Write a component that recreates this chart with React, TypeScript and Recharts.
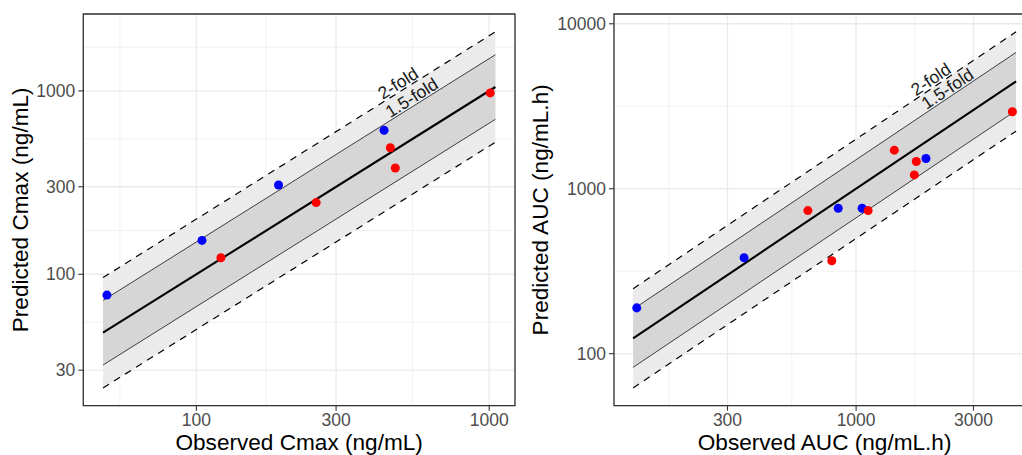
import React from 'react';
import {
  ComposedChart,
  XAxis,
  YAxis,
  CartesianGrid,
  Area,
  Line,
  Scatter,
  ReferenceArea,
  ReferenceDot,
} from 'recharts';

// ---------- Left panel: Cmax ----------
const cmaxBlueObs = [49.5, 104.5, 190.8, 437.5];
const cmaxBluePred = [77, 153, 306.6, 610];
const cmaxRedObs = [121.3, 256.5, 459.6, 478, 1008];
const cmaxRedPred = [123.1, 246, 490, 380, 975];
const cmaxLineX = [48, 1050];
const cmaxXTicks = [100, 300, 1000];
const cmaxYTicks = [30, 100, 300, 1000];
const cmaxXMinor = [54.8, 173.2, 547.7];
const cmaxYMinor = [54.8, 173.2, 547.7, 1732];
const cmaxXDomain = [41.1, 1225];
const cmaxYDomain = [19.2, 2626];
const cmaxLabelX = [505, 562]; // 2-fold, 1.5-fold

// ---------- Right panel: AUC ----------
const aucBlueObs = [128.3, 350.4, 845.7, 1058, 1923];
const aucBluePred = [189.6, 381.7, 761, 761, 1526];
const aucRedObs = [636.8, 796.5, 1119, 1430, 1757, 1724, 4318];
const aucRedPred = [737, 366, 737, 1714, 1463, 1213, 2931];
const aucLineX = [124, 4470];
const aucXTicks = [300, 1000, 3000];
const aucYTicks = [100, 1000, 10000];
const aucXMinor = [173.2, 547.7, 1732];
const aucYMinor = [316.2, 3162];
const aucXDomain = [103.7, 5346];
const aucYDomain = [48.4, 11463];
const aucLabelX = [2100, 2454];

// fold factors
const foldOuter = 2;
const foldInner = 1.5;
const foldLabels = ['2-fold', '1.5-fold'];

const FONT = '"Liberation Sans", Arial, Helvetica, sans-serif';

const makeBand = (xs: number[]) =>
  xs.map((x) => ({
    x,
    id: x,
    band2: [x / foldOuter, x * foldOuter],
    band15: [x / foldInner, x * foldInner],
    up2: x * foldOuter,
    lo2: x / foldOuter,
    up15: x * foldInner,
    lo15: x / foldInner,
  }));

const makePts = (xs: number[], ys: number[]) => xs.map((x, i) => ({ x, y: ys[i] }));

type PanelProps = {
  width: number;
  yAxisWidth: number;
  marginRight: number;
  xTitle: string;
  yTitle: string;
  lineX: number[];
  blue: { x: number; y: number }[];
  red: { x: number; y: number }[];
  xTicks: number[];
  yTicks: number[];
  xMinor: number[];
  yMinor: number[];
  xDomain: number[];
  yDomain: number[];
  labelX: number[];
  angle: number;
};

const Panel = (p: PanelProps) => {
  const bandData = makeBand(p.lineX);
  const tickStyle = { fill: '#4d4d4d', fontSize: 17.5, fontFamily: FONT };
  const tickLine = { stroke: '#333333', strokeWidth: 1.1 };

  const XTitle = (props: any) => {
    const vb = props.viewBox;
    return (
      <text
        x={vb.x + vb.width / 2}
        y={vb.y + 43.8}
        textAnchor="middle"
        fontSize={22.6}
        fontFamily={FONT}
        fill="#000000"
      >
        {p.xTitle}
      </text>
    );
  };
  const YTitle = (props: any) => {
    const vb = props.viewBox;
    const cx = vb.x + 27.9;
    const cy = vb.y + vb.height / 2;
    return (
      <text
        x={cx}
        y={cy}
        transform={`rotate(-90, ${cx}, ${cy})`}
        textAnchor="middle"
        fontSize={22.6}
        fontFamily={FONT}
        fill="#000000"
      >
        {p.yTitle}
      </text>
    );
  };

  const foldText = (label: string) => (props: any) => {
    const { cx, cy } = props;
    return (
      <text
        x={cx}
        y={cy - 2}
        transform={`rotate(${-p.angle}, ${cx}, ${cy})`}
        textAnchor="middle"
        fontSize={17.5}
        fontFamily={FONT}
        fill="#1a1a1a"
      >
        {label}
      </text>
    );
  };

  return (
    <ComposedChart
      width={p.width}
      height={455}
      data={bandData}
      margin={{ top: 14, right: p.marginRight, bottom: 0, left: 0 }}
    >
      <XAxis
        xAxisId="minor"
        type="number"
        scale="log"
        dataKey="x"
        domain={p.xDomain}
        allowDataOverflow
        ticks={p.xMinor}
        hide
      />
      <YAxis
        yAxisId="minor"
        type="number"
        scale="log"
        domain={p.yDomain}
        allowDataOverflow
        ticks={p.yMinor}
        hide
      />
      <CartesianGrid xAxisId="minor" yAxisId="minor" stroke="#ebebeb" strokeWidth={0.7} />
      <XAxis
        type="number"
        scale="log"
        dataKey="x"
        domain={p.xDomain}
        allowDataOverflow
        ticks={p.xTicks}
        height={49.3}
        tick={tickStyle}
        tickLine={tickLine}
        tickSize={5}
        tickMargin={3}
        axisLine={false}
        interval={0}
        label={<XTitle />}
      />
      <YAxis
        type="number"
        scale="log"
        domain={p.yDomain}
        allowDataOverflow
        ticks={p.yTicks}
        width={p.yAxisWidth}
        tick={tickStyle}
        tickLine={tickLine}
        tickSize={5}
        tickMargin={3}
        axisLine={false}
        interval={0}
        label={<YTitle />}
      />
      <CartesianGrid stroke="#ebebeb" strokeWidth={1.4} />
      <Area
        dataKey="band2"
        type="linear"
        fill="#ebebeb"
        fillOpacity={1}
        stroke="none"
        isAnimationActive={false}
        activeDot={false}
      />
      <Area
        dataKey="band15"
        type="linear"
        fill="#d6d6d6"
        fillOpacity={1}
        stroke="none"
        isAnimationActive={false}
        activeDot={false}
      />
      <Line dataKey="up2" type="linear" stroke="#000000" strokeWidth={1.2} strokeDasharray="7 6" dot={false} activeDot={false} isAnimationActive={false} />
      <Line dataKey="lo2" type="linear" stroke="#000000" strokeWidth={1.2} strokeDasharray="7 6" dot={false} activeDot={false} isAnimationActive={false} />
      <Line dataKey="up15" type="linear" stroke="#3d3d3d" strokeWidth={1} dot={false} activeDot={false} isAnimationActive={false} />
      <Line dataKey="lo15" type="linear" stroke="#3d3d3d" strokeWidth={1} dot={false} activeDot={false} isAnimationActive={false} />
      <Line dataKey="id" type="linear" stroke="#000000" strokeWidth={2.1} dot={false} activeDot={false} isAnimationActive={false} />
      <Scatter data={p.blue} dataKey="y" fill="#0000ff" isAnimationActive={false} />
      <Scatter data={p.red} dataKey="y" fill="#ff0000" isAnimationActive={false} />
      <ReferenceDot
        x={p.labelX[0]}
        y={p.labelX[0] * foldOuter}
        r={0}
        ifOverflow="visible"
        shape={foldText(foldLabels[0])}
      />
      <ReferenceDot
        x={p.labelX[1]}
        y={p.labelX[1] * foldInner}
        r={0}
        ifOverflow="visible"
        shape={foldText(foldLabels[1])}
      />
      <ReferenceArea
        x1={p.xDomain[0]}
        x2={p.xDomain[1]}
        y1={p.yDomain[0]}
        y2={p.yDomain[1]}
        ifOverflow="visible"
        fill="none"
        stroke="#333333"
        strokeWidth={1.3}
      />
    </ComposedChart>
  );
};

export default function App() {
  return (
    <div
      style={{
        position: 'absolute',
        left: 0,
        top: 0,
        width: 1022,
        height: 455,
        overflow: 'hidden',
        background: '#ffffff',
      }}
    >
      <div style={{ position: 'absolute', left: 0, top: 0 }}>
        <Panel
          width={540}
          yAxisWidth={83.3}
          marginRight={25}
          xTitle="Observed Cmax (ng/mL)"
          yTitle="Predicted Cmax (ng/mL)"
          lineX={cmaxLineX}
          blue={makePts(cmaxBlueObs, cmaxBluePred)}
          red={makePts(cmaxRedObs, cmaxRedPred)}
          xTicks={cmaxXTicks}
          yTicks={cmaxYTicks}
          xMinor={cmaxXMinor}
          yMinor={cmaxYMinor}
          xDomain={cmaxXDomain}
          yDomain={cmaxYDomain}
          labelX={cmaxLabelX}
          angle={32.2}
        />
      </div>
      <div style={{ position: 'absolute', left: 520, top: 0 }}>
        <Panel
          width={540}
          yAxisWidth={94}
          marginRight={24.8}
          xTitle="Observed AUC (ng/mL.h)"
          yTitle="Predicted AUC (ng/mL.h)"
          lineX={aucLineX}
          blue={makePts(aucBlueObs, aucBluePred)}
          red={makePts(aucRedObs, aucRedPred)}
          xTicks={aucXTicks}
          yTicks={aucYTicks}
          xMinor={aucXMinor}
          yMinor={aucYMinor}
          xDomain={aucXDomain}
          yDomain={aucYDomain}
          labelX={aucLabelX}
          angle={33.7}
        />
      </div>
    </div>
  );
}
